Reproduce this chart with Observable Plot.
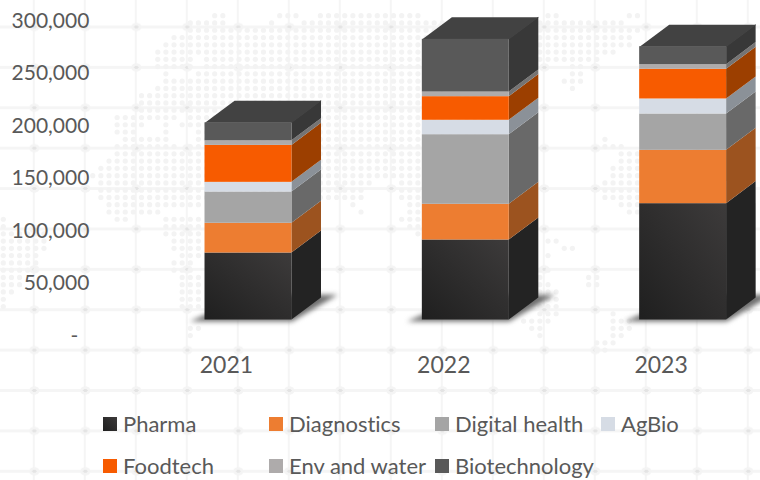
<!DOCTYPE html>
<html>
<head>
<meta charset="utf-8">
<script src="https://cdn.jsdelivr.net/npm/d3@7"></script>
<script src="https://cdn.jsdelivr.net/npm/@observablehq/plot@0.6"></script>
<style>
html,body{margin:0;padding:0;overflow:hidden;background:#fff}
#page{position:relative;width:760px;height:480px;overflow:hidden;
  background-image:
    radial-gradient(ellipse 2.4px 1.8px at center,#e4e4e4 0,#e4e4e4 85%,transparent 100%),
    radial-gradient(ellipse 5.5px 4.5px at center,#f4f4f4 0,#f4f4f4 85%,transparent 100%),
    linear-gradient(to right,transparent calc(50% - 1px),#f5f5f5 calc(50% - 1px),#f5f5f5 calc(50% + 1px),transparent calc(50% + 1px)),
    linear-gradient(to bottom,transparent calc(50% - 1px),#f5f5f5 calc(50% - 1px),#f5f5f5 calc(50% + 1px),transparent calc(50% + 1px));
  background-size:51px 40.4px;
  background-position:8.8px 6.8px;
}
#chart svg{display:block}
#chart text{font-variant-ligatures:none}
#legend{display:grid;grid-template-columns:repeat(4,166px);grid-template-rows:42px 34px;margin-left:103px;
  font-family:Lato,sans-serif;font-size:22px;line-height:21px;color:#595959;font-variant-ligatures:none}
#legend div{display:flex;align-items:flex-start;white-space:nowrap;padding-top:13px;box-sizing:border-box}
#legend i{display:inline-block;width:14px;height:14px;margin:4px 6px 0 0;flex:none}
</style>
</head>
<body>
<div id="page"><div id="chart"></div><div id="legend"></div></div>
<script>
const years = [2021, 2022, 2023];
const categories = ["Pharma", "Diagnostics", "Digital health", "AgBio", "Foodtech", "Env and water", "Biotechnology"];
const pharma = [63800, 76200, 110800];
const diagnostics = [28300, 34000, 50800];
const digitalHealth = [29800, 66300, 34600];
const agBio = [9200, 13700, 14300];
const foodtech = [35200, 22500, 28300];
const envWater = [4400, 4400, 4400];
const biotechnology = [17100, 50200, 17100];
const series = [pharma, diagnostics, digitalHealth, agBio, foodtech, envWater, biotechnology];
const frontColors = ["url(#pharmaFront)", "#ed7d31", "#a5a5a5", "#d6dce5", "#f75b00", "#aeabab", "#595959"];
const sideColors = ["#232323", "#9c531f", "#696969", "#8b9198", "#9c3f00", "#757474", "#383838"];
const legendColors = ["linear-gradient(45deg,#1f1f1f,#3c3a3a)", "#ed7d31", "#a5a5a5", "#d6dce5", "#f75b00", "#aeabab", "#595959"];
const topColor = "#424242";
const yTicks = [50000, 100000, 150000, 200000, 250000, 300000];
const yZeroTick = [0];
const yAxisAtYear = 2020.268;
const xLabelAtValue = -43300;

// Faint dotted world map behind the chart: [row, from, to, from, to, ...] on its dot lattice.
const mapRuns = [
[0,26,27,34,36,39,51,67,68,77,78],[1,23,27,33,33,37,66,67,76],[2,23,78],[3,21,77],[4,20,77],
[5,19,23,24,75],[6,19,23,25,73],[7,19,20,21,23,25,60,70,71],[8,20,20,24,60,70,71],[9,20,60,69,71],
[10,19,60,70,70],[11,17,60],[12,17,60],[13,17,60],[14,14,21,23,60],[15,14,17,20,20,22,22,23,60],
[16,14,16,20,20,24,60],[17,15,20,24,60,74,74],[18,14,21,23,60,74,76],[19,14,60,76,78],[20,13,60,76,78],
[21,12,60,75,78],[22,11,60,75,78],[23,12,45,49,51,74,78],[24,12,44,49,51,74,78],[25,12,44,49,51,74,78],
[26,13,24,43,43,50,51,76,78],[27,13,19,44,44,50,51,77,78],[28,0,0,14,15,20,24,49,51],[29,0,0,20,24,50,51],
[30,0,5,20,24,51,51],[31,0,5,21,24,67,68],[32,0,5,21,24,69,70],[33,0,4,22,24,67,67],[34,0,4,21,23],
[35,0,4,21,23,66,67],[36,0,2,22,24,66,66,72,73],[37,0,2,22,24,66,67,72,73],[38,0,1,22,24,66,68],
[39,0,0,22,24,66,68],[40,0,0,22,24,66,68],[41,66,68,75,75],[42,64,67,75,77],[43,23,24,65,66,75,77],
[44,23,23,66,66,75,76],[45,73,75],[46,73,74]
];

const barHalf = 0.2, depthX = 0.136, depthY = 21000;

const segments = [];
years.forEach((year, i) => {
  let base = 0;
  categories.forEach((cat, k) => {
    const v = series[k][i];
    segments.push({year, cat, k, y0: base, y1: base + v});
    base += v;
  });
});
const totals = years.map((year, i) => ({year, total: d3.sum(series, s => s[i])}));

const sideFaces = segments.flatMap(s => [
  {key: s.year + s.cat, k: s.k, x: s.year + barHalf, y1: s.y0, y2: s.y1},
  {key: s.year + s.cat, k: s.k, x: s.year + barHalf + depthX, y1: s.y0 + depthY, y2: s.y1 + depthY}
]);
const topFaces = totals.flatMap(t => [
  {year: t.year, x: t.year - barHalf, y: t.total},
  {year: t.year, x: t.year + barHalf, y: t.total},
  {year: t.year, x: t.year + barHalf + depthX, y: t.total + depthY},
  {year: t.year, x: t.year - barHalf + depthX, y: t.total + depthY}
]);
const shadows = years.flatMap(year => [
  {year, x: year - barHalf - 0.07, y: -1500},
  {year, x: year + barHalf, y: -1500},
  {year, x: year + barHalf + depthX + 0.075, y: 24000},
  {year, x: year - barHalf + depthX + 0.075, y: 24000}
]);

const defs = () => {
  const d = d3.create("svg:defs");
  const g = d.append("linearGradient").attr("id", "pharmaFront")
    .attr("x1", 0).attr("y1", 1).attr("x2", 1).attr("y2", 0);
  g.append("stop").attr("offset", 0).attr("stop-color", "#1f1f1f");
  g.append("stop").attr("offset", 1).attr("stop-color", "#3d3b3b");
  return d.node();
};
const dotMap = () => {
  const g = d3.create("svg:g").attr("fill", "#f3f3f3");
  for (const [row, ...runs] of mapRuns) {
    for (let i = 0; i < runs.length; i += 2) {
      for (let c = runs[i]; c <= runs[i + 1]; c++) {
        g.append("circle").attr("cx", 3.3 + 8.13 * c).attr("cy", 15.7 + 7.27 * row).attr("r", 2.6);
      }
    }
  }
  return g.node();
};

const chart = Plot.plot({
  width: 760,
  height: 400,
  marginTop: 0, marginRight: 0, marginBottom: 0, marginLeft: 0,
  style: {background: "transparent", fontFamily: "Lato, sans-serif", color: "#595959", overflow: "visible"},
  x: {type: "linear", domain: [2019.859, 2023.356], range: [0, 760]},
  y: {domain: [-76667, 304286], range: [400, 0]},
  color: {domain: categories, range: frontColors, type: "ordinal"},
  marks: [
    defs,
    dotMap,
    Plot.line(shadows, {x: "x", y: "y", z: "year", fill: "#6f6f6f", stroke: null, imageFilter: "blur(2.5px)"}),
    Plot.areaY(sideFaces, {x: "x", y1: "y1", y2: "y2", z: "key", fill: {value: d => sideColors[d.k], scale: null}, curve: "linear"}),
    Plot.line(topFaces, {x: "x", y: "y", z: "year", fill: topColor, stroke: null}),
    Plot.rect(segments, {x1: d => d.year - barHalf, x2: d => d.year + barHalf, y1: "y0", y2: "y1", fill: {value: d => frontColors[d.k], scale: null}}),
    Plot.axisY(yTicks, {
      anchor: "left", x: yAxisAtYear, tickSize: 0, tickPadding: 0, dy: 16, label: null,
      fontSize: 21, fill: "#595959", textAnchor: "end",
      tickFormat: d3.format(",")
    }),
    Plot.axisY(yZeroTick, {
      anchor: "left", x: yAxisAtYear, tickSize: 0, tickPadding: 0, dy: 16, dx: -11, label: null,
      fontSize: 21, fill: "#595959", textAnchor: "end",
      tickFormat: () => "-"
    }),
    Plot.axisX(years, {
      anchor: "bottom", y: xLabelAtValue, tickSize: 0, tickPadding: 0, dx: -22, label: null, lineAnchor: "middle",
      fontSize: 23, fill: "#595959", tickFormat: d3.format("d")
    })
  ]
});
document.getElementById("chart").append(chart);

const legendOrder = [0, 1, 2, 3, 4, 5, 6];
const legend = d3.select("#legend");
legendOrder.forEach(k => {
  const row = legend.append("div");
  row.append("i").style("background", legendColors[k]);
  row.append("span").text(categories[k]);
});
</script>
</body>
</html>
